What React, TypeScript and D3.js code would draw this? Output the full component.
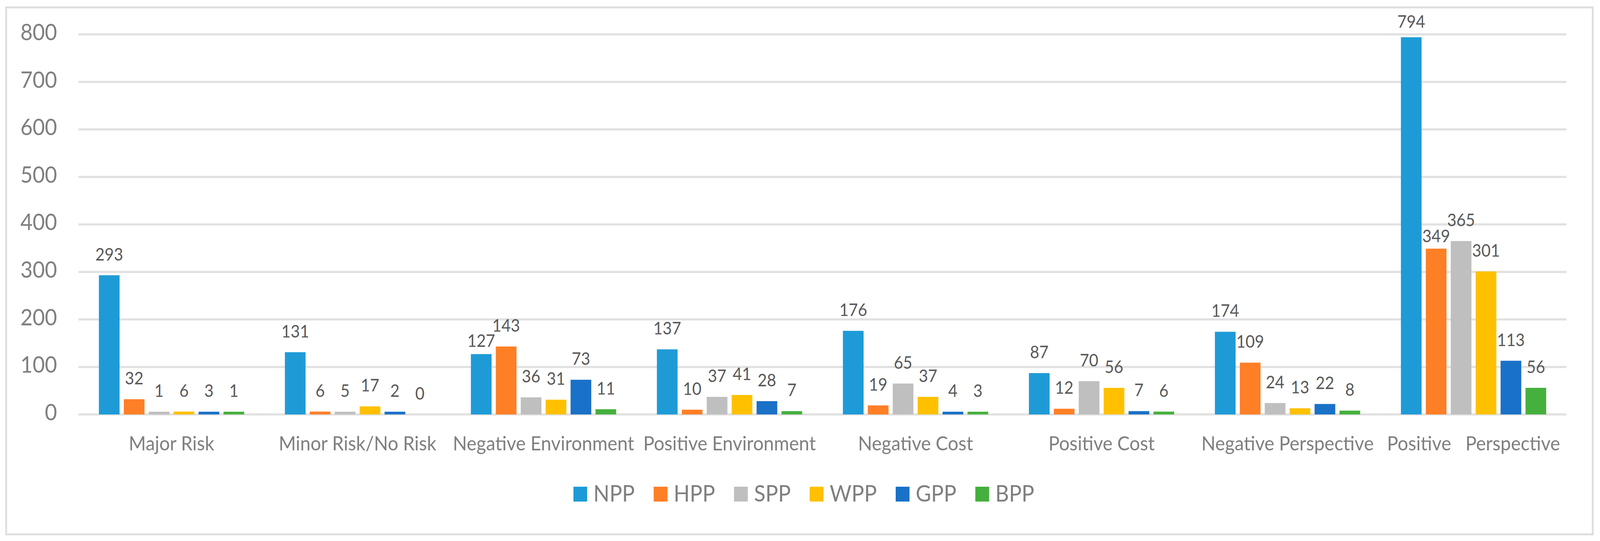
import React, { useEffect, useRef } from "react";
import * as d3 from "d3";

const categories = [
  "Major Risk",
  "Minor Risk/No Risk",
  "Negative Environment",
  "Positive Environment",
  "Negative Cost",
  "Positive Cost",
  "Negative Perspective",
  "Positive   Perspective",
];
const seriesNames = ["NPP", "HPP", "SPP", "WPP", "GPP", "BPP"];
const npp = [293, 131, 127, 137, 176, 87, 174, 794];
const hpp = [32, 6, 143, 10, 19, 12, 109, 349];
const spp = [1, 5, 36, 37, 65, 70, 24, 365];
const wpp = [6, 17, 31, 41, 37, 56, 13, 301];
const gpp = [3, 2, 73, 28, 4, 7, 22, 113];
const bpp = [1, 0, 11, 7, 3, 6, 8, 56];
const yTicks = [0, 100, 200, 300, 400, 500, 600, 700, 800];

const seriesValues = [npp, hpp, spp, wpp, gpp, bpp];
const colors = ["#1e9bd7", "#ff7f27", "#bfbfbf", "#ffc000", "#1a71c8", "#45b03d"];

// a few labels sit closer to their bar in the original
const labelGap: Record<string, number> = {
  "NPP|Negative Environment": 19,
  "HPP|Positive   Perspective": 17,
  "NPP|Positive   Perspective": 24,
};

const W = 4401;
const H = 1385;
const FONT = "Lato, 'Open Sans', sans-serif";

export default function App() {
  const svgRef = useRef<SVGSVGElement>(null);

  useEffect(() => {
    const svg = d3.select(svgRef.current);
    svg.selectAll("*").remove();

    const plotLeft = 216;
    const plotRight = 4309;

    const x0 = d3.scaleBand().domain(categories).range([plotLeft, plotRight]).padding(0);
    const x1 = d3
      .scaleBand()
      .domain(seriesNames)
      .range([56, x0.bandwidth() - 56])
      .paddingInner(0.17)
      .paddingOuter(0);
    const y = d3.scaleLinear().domain([0, 800]).range([1061, 88]);

    svg.append("rect").attr("width", W).attr("height", H).attr("fill", "#fff");
    svg
      .append("rect")
      .attr("x", 17)
      .attr("y", 19)
      .attr("width", 4364)
      .attr("height", 1349)
      .attr("fill", "none")
      .attr("stroke", "#dedede")
      .attr("stroke-width", 5);

    // gridlines
    svg
      .append("g")
      .selectAll("line")
      .data(yTicks)
      .enter()
      .append("line")
      .attr("x1", plotLeft)
      .attr("x2", plotRight)
      .attr("y1", (d) => y(d))
      .attr("y2", (d) => y(d))
      .attr("stroke", "#e1e1e1")
      .attr("stroke-width", 5.5);

    svg
      .append("g")
      .selectAll("text")
      .data(yTicks)
      .enter()
      .append("text")
      .attr("x", 157)
      .attr("y", (d) => y(d) + 15)
      .attr("text-anchor", "end")
      .attr("fill", "#7f7f7f")
      .style("font-family", FONT)
      .style("font-size", "58px")
      .text((d) => d);

    // bars + labels
    seriesNames.forEach((s, si) => {
      const g = svg.append("g");
      const vals = seriesValues[si];
      const barH = (v: number) => (v > 0 ? Math.max(y(0) - y(v), 7) : 0);
      g.selectAll("rect")
        .data(vals)
        .enter()
        .append("rect")
        .attr("x", (d, i) => (x0(categories[i]) as number) + (x1(s) as number))
        .attr("y", (d) => y(0) - barH(d))
        .attr("width", x1.bandwidth())
        .attr("height", (d) => barH(d))
        .attr("fill", colors[si]);

      g.selectAll("text")
        .data(vals)
        .enter()
        .append("text")
        .attr("x", (d, i) => (x0(categories[i]) as number) + (x1(s) as number) + x1.bandwidth() / 2)
        .attr("y", (d, i) => {
          const gap = labelGap[s + "|" + categories[i]] ?? 38;
          return y(0) - barH(d) - gap;
        })
        .attr("text-anchor", "middle")
        .attr("fill", "#595959")
        .style("font-family", FONT)
        .style("font-size", "44px")
        .text((d) => d);
    });

    // category labels
    svg
      .append("g")
      .selectAll("text")
      .data(categories)
      .enter()
      .append("text")
      .attr("x", (d) => (x0(d) as number) + x0.bandwidth() / 2)
      .attr("y", 1153)
      .attr("text-anchor", "middle")
      .attr("fill", "#7f7f7f")
      .attr("xml:space", "preserve")
      .style("white-space", "pre")
      .style("font-family", FONT)
      .style("font-size", "51px")
      .text((d) => d);

    // legend
    const legend = svg.append("g");
    const items = seriesNames.map((s, i) => {
      const item = legend.append("g");
      item
        .append("rect")
        .attr("x", 0)
        .attr("y", 1246)
        .attr("width", 38)
        .attr("height", 38)
        .attr("fill", colors[i]);
      const t = item
        .append("text")
        .attr("x", 55)
        .attr("y", 1284)
        .attr("fill", "#7f7f7f")
        .style("font-family", FONT)
        .style("font-size", "58px")
        .text(s);
      const w = (t.node() as SVGTextElement).getComputedTextLength();
      return { item, w: 55 + w };
    });
    const spacing = 52;
    const total = d3.sum(items, (d) => d.w) + spacing * (items.length - 1);
    let cx = 2211 - total / 2;
    items.forEach((d) => {
      d.item.attr("transform", `translate(${cx},0)`);
      cx += d.w + spacing;
    });
  }, []);

  // the viewport may not be exactly 4401x1385, so stretch the drawing to fill it
  return (
    <div style={{ position: "fixed", left: 0, top: 0, width: "100vw", height: "100vh" }}>
      <svg
        ref={svgRef}
        viewBox={`0 0 ${W} ${H}`}
        preserveAspectRatio="none"
        style={{ display: "block", width: "100vw", height: "100vh" }}
      />
    </div>
  );
}
